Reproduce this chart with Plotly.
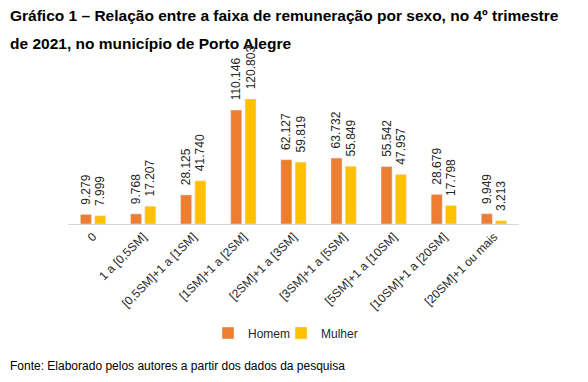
import plotly.graph_objects as go

categories = ["0", "1 a [0,5SM]", "[0,5SM]+1 a [1SM]", "[1SM]+1 a [2SM]", "[2SM]+1 a [3SM]",
              "[3SM]+1 a [5SM]", "[5SM]+1 a [10SM]", "[10SM]+1 a [20SM]", "[20SM]+1 ou mais"]
homem = [9279, 9768, 28125, 110146, 62127, 63732, 55542, 28679, 9949]
mulher = [7999, 17207, 41740, 120803, 59819, 55849, 47957, 17798, 3213]

title_line1 = "Gráfico 1 – Relação entre a faixa de remuneração por sexo, no 4º trimestre"
title_line2 = "de 2021, no município de Porto Alegre"
source = "Fonte: Elaborado pelos autores a partir dos dados da pesquisa"

W, H = 588, 382
L, R, T, B = 68, 69, 60, 158
ph = H - T - B
ymax = ph / 125 * 120803

fig = go.Figure()
for name, vals, col, lg in [("Homem", homem, "#ED7D31", "legend"), ("Mulher", mulher, "#FFC000", "legend2")]:
    fig.add_trace(go.Bar(
        x=categories, y=vals, name=name, marker_color=col, legend=lg,
        texttemplate="\u00a0\u00a0%{y:,d}", textposition="outside", textangle=-90,
        textfont=dict(family="Liberation Sans, Arial", size=12, color="#262626"),
        constraintext="none", cliponaxis=False,
    ))

leg_common = dict(orientation="h", xref="container", yref="container",
                  xanchor="left", y=1 - 333 / H, yanchor="middle",
                  bgcolor="rgba(0,0,0,0)",
                  font=dict(size=12, color="#262626"), itemwidth=30)

fig.update_layout(
    width=W, height=H,
    margin=dict(l=L, r=R, t=T, b=B, autoexpand=False),
    paper_bgcolor="white", plot_bgcolor="white",
    separators=",.",
    barmode="group", bargap=0.43, bargroupgap=0.225,
    font=dict(family="Liberation Sans, Arial", size=12, color="#262626"),
    xaxis=dict(showline=True, linecolor="#D9D9D9", linewidth=1, ticks="", tickangle=-45,
               tickfont=dict(size=12, color="#262626"), showgrid=False, automargin=False),
    yaxis=dict(range=[0, ymax], visible=False, showgrid=False, automargin=False),
    legend=dict(x=208 / W, **leg_common),
    legend2=dict(x=281 / W, **leg_common),
    showlegend=True,
    annotations=[
        dict(text="<b>" + title_line1 + "</b>", xref="paper", yref="paper",
             x=(8 - L) / (W - L - R), y=(H - B - 15) / ph, xanchor="left", yanchor="middle",
             showarrow=False, font=dict(family="Liberation Sans, Arial", size=15.5, color="#000000")),
        dict(text="<b>" + title_line2 + "</b>", xref="paper", yref="paper",
             x=(8 - L) / (W - L - R), y=(H - B - 44) / ph, xanchor="left", yanchor="middle",
             showarrow=False, font=dict(family="Liberation Sans, Arial", size=15.5, color="#000000")),
        dict(text=source, xref="paper", yref="paper",
             x=(8 - L) / (W - L - R), y=(H - B - 366) / ph, xanchor="left", yanchor="middle",
             showarrow=False, font=dict(family="Liberation Sans, Arial", size=12, color="#000000")),
    ],
)

fig.write_html(
    "out.html",
    config={"displayModeBar": False},
    post_script="document.body.style.margin='0';document.body.style.padding='0';",
)
